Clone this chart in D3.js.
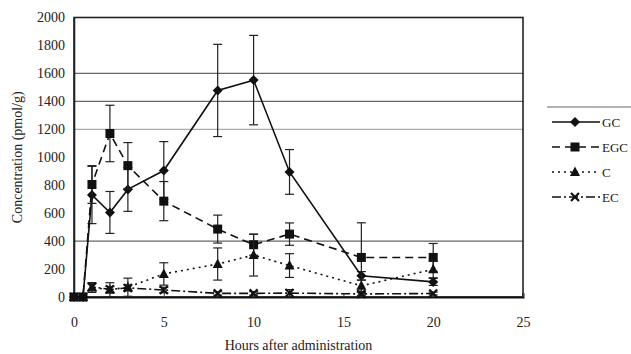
<!DOCTYPE html>
<html><head><meta charset="utf-8">
<script src="https://cdn.jsdelivr.net/npm/d3@7/dist/d3.min.js"></script>
<style>
body{margin:0;background:#fff;}
svg{display:block;font-family:"Liberation Serif","Times New Roman",serif;}
</style></head>
<body>
<svg id="chart" width="631" height="354"></svg>
<script>
const times = [0, 0.5, 1, 2, 3, 5, 8, 10, 12, 16, 20];
const gcValues  = [0, 0, 730, 605, 770, 905, 1478, 1552, 895, 152, 108];
const gcErrors  = [0, 0, 205, 150, 157, 207, 330, 320, 160, 30, 25];
const egcValues = [0, 0, 805, 1170, 940, 686, 486, 374, 450, 283, 283];
const egcErrors = [0, 0, 135, 202, 165, 140, 100, 75, 80, 248, 100];
const cValues   = [0, 0, 68, 52, 70, 165, 236, 300, 225, 80, 198];
const cErrors   = [0, 0, 35, 50, 65, 80, 115, 150, 85, 40, 60];
const ecValues  = [0, 0, 72, 55, 65, 50, 26, 26, 28, 22, 25];
const ecErrors  = [0, 0, 25, 20, 20, 20, 12, 12, 25, 10, 10];
const seriesNames = ["GC", "EGC", "C", "EC"];
const xTicks = [0, 5, 10, 15, 20, 25];
const yTicks = [0, 200, 400, 600, 800, 1000, 1200, 1400, 1600, 1800, 2000];
const gridValues = [400, 1200, 1400, 1600];
const xTitle = "Hours after administration";
const yTitle = "Concentration (pmol/g)";

const series = [
  {name: seriesNames[0], values: gcValues, errors: gcErrors, dash: null, marker: "diamond"},
  {name: seriesNames[1], values: egcValues, errors: egcErrors, dash: "8,5", marker: "square"},
  {name: seriesNames[2], values: cValues, errors: cErrors, dash: "2,4", marker: "triangle"},
  {name: seriesNames[3], values: ecValues, errors: ecErrors, dash: "9,3,2,3", marker: "cross"}
];

const svg = d3.select("#chart");
const L = 74, R = 523, T = 17.5, B = 297;
const x = d3.scaleLinear().domain([0, 25]).range([L, R]);
const y = d3.scaleLinear().domain([0, 2000]).range([B, T]);

// gridlines
svg.append("g").selectAll("line").data(gridValues).join("line")
  .attr("x1", L).attr("x2", R)
  .attr("y1", d => y(d)).attr("y2", d => y(d))
  .attr("stroke", d => d === 1200 ? "#aaa" : "#666").attr("stroke-width", 1.2);

// frame
svg.append("rect").attr("x", L).attr("y", T).attr("width", R - L).attr("height", B - T)
  .attr("fill", "none").attr("stroke", "#222").attr("stroke-width", 1.6);

// y axis
const yAxis = d3.axisLeft(y).tickValues(yTicks).tickSize(0).tickPadding(9).tickFormat(d3.format("d"));
const gy = svg.append("g").attr("transform", `translate(${L},0)`).call(yAxis);
gy.select(".domain").attr("stroke", "#222").attr("stroke-width", 1.6);
gy.selectAll("text").attr("font-size", 14).attr("fill", "#222").attr("font-family", "Liberation Serif");

// x axis
const xAxis = d3.axisBottom(x).tickValues(xTicks).tickSize(-4).tickPadding(20).tickFormat(d3.format("d"));
const gx = svg.append("g").attr("transform", `translate(0,${B})`).call(xAxis);
gx.select(".domain").attr("stroke", "#111").attr("stroke-width", 2);
gx.selectAll("line").attr("stroke", "#444");
gx.selectAll("text").attr("font-size", 14).attr("fill", "#222").attr("font-family", "Liberation Serif");

// titles
svg.append("text").attr("x", (L + R) / 2).attr("y", 350).attr("text-anchor", "middle")
  .attr("font-size", 14).attr("fill", "#222").text(xTitle);
svg.append("text").attr("transform", `translate(22,${(T + B) / 2}) rotate(-90)`)
  .attr("text-anchor", "middle").attr("font-size", 14).attr("fill", "#222").text(yTitle);

function drawMarker(g, type, cx, cy) {
  if (type === "diamond") {
    g.append("path").attr("d", `M${cx},${cy-5}L${cx+5},${cy}L${cx},${cy+5}L${cx-5},${cy}Z`).attr("fill", "#111");
  } else if (type === "square") {
    g.append("rect").attr("x", cx - 4.5).attr("y", cy - 4.5).attr("width", 9).attr("height", 9).attr("fill", "#111");
  } else if (type === "triangle") {
    g.append("path").attr("d", `M${cx},${cy-5.5}L${cx+5},${cy+4}L${cx-5},${cy+4}Z`).attr("fill", "#111");
  } else {
    g.append("path").attr("d", `M${cx-4},${cy-4}L${cx+4},${cy+4}M${cx-4},${cy+4}L${cx+4},${cy-4}`)
      .attr("stroke", "#111").attr("stroke-width", 2.2);
  }
}

const line = d3.line().x(d => x(d.t)).y(d => y(d.v));
series.forEach(s => {
  const pts = times.map((t, i) => ({t, v: s.values[i], e: s.errors[i]}));
  const g = svg.append("g");
  // error bars
  pts.filter(p => p.e > 0).forEach(p => {
    const lo = Math.max(0, p.v - p.e), hi = p.v + p.e;
    g.append("line").attr("x1", x(p.t)).attr("x2", x(p.t)).attr("y1", y(lo)).attr("y2", y(hi))
      .attr("stroke", "#222").attr("stroke-width", 1.2);
    [lo, hi].forEach(v => g.append("line").attr("x1", x(p.t) - 4.5).attr("x2", x(p.t) + 4.5)
      .attr("y1", y(v)).attr("y2", y(v)).attr("stroke", "#222").attr("stroke-width", 1.2));
  });
  g.append("path").datum(pts).attr("d", line).attr("fill", "none").attr("stroke", "#111")
    .attr("stroke-width", 1.6).attr("stroke-dasharray", s.dash);
  pts.forEach(p => drawMarker(g, s.marker, x(p.t), y(p.v)));
});

// legend
svg.append("line").attr("x1", 547).attr("x2", 631).attr("y1", 107).attr("y2", 107)
  .attr("stroke", "#666").attr("stroke-width", 1.2);
const lg = svg.append("g");
series.forEach((s, i) => {
  const ly = 122 + i * 25;
  lg.append("line").attr("x1", 552).attr("x2", 600).attr("y1", ly).attr("y2", ly)
    .attr("stroke", "#111").attr("stroke-width", 1.6).attr("stroke-dasharray", s.dash);
  drawMarker(lg, s.marker, 575, ly);
  lg.append("text").attr("x", 602).attr("y", ly + 5).attr("font-size", 13).attr("fill", "#222").text(s.name);
});
</script>
</body></html>
